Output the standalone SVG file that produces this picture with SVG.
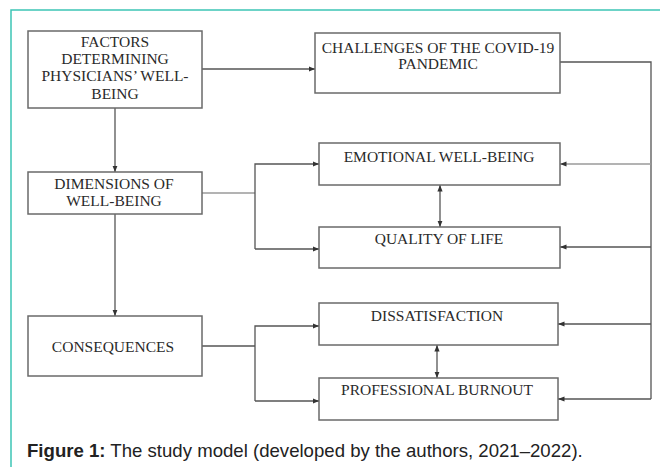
<svg xmlns="http://www.w3.org/2000/svg" width="660" height="467" viewBox="0 0 660 467">
<defs>
<style>
.box{fill:#fff;stroke:#6a6a6a;stroke-width:1.5}
.t{font-family:"Liberation Serif","Times New Roman",serif;font-size:15.5px;fill:#2a2a2a;text-anchor:middle}
.ln{fill:none;stroke:#555;stroke-width:1.3}
.lt{fill:none;stroke:#9a9a9a;stroke-width:1.3}
.cap{font-family:"Liberation Sans",Arial,sans-serif;font-size:18.6px;fill:#222}
</style>
<marker id="ah" viewBox="0 0 10 10" refX="10" refY="5" markerWidth="5" markerHeight="5" orient="auto-start-reverse">
<path d="M0,1 L10,5 L0,9 Z" fill="#333"/>
</marker>
</defs>
<rect width="660" height="467" fill="#fff"/>
<path d="M11,467 V10 H660" fill="none" stroke="#3cc5b5" stroke-width="1.5"/>

<g id="connectors">
<path class="ln" d="M202,69 H315" marker-end="url(#ah)"/>
<path class="ln" d="M115,108 V172" marker-end="url(#ah)"/>
<path class="ln" d="M115,214 V316" marker-end="url(#ah)"/>
<path class="lt" d="M202,193 H255"/>
<path class="ln" d="M255,249 V164 H319" marker-end="url(#ah)"/>
<path class="ln" d="M255,249 H319" marker-end="url(#ah)"/>
<path class="ln" d="M202,346 H255"/>
<path class="ln" d="M255,401 V326 H319" marker-end="url(#ah)"/>
<path class="ln" d="M255,401 H319" marker-end="url(#ah)"/>
<path class="ln" d="M560,62 H651 V399"/>
<path class="lt" d="M651,164 H560" marker-end="url(#ah)"/>
<path class="ln" d="M651,247 H560" marker-end="url(#ah)"/>
<path class="ln" d="M651,324 H558" marker-end="url(#ah)"/>
<path class="ln" d="M651,399 H558" marker-end="url(#ah)"/>
<path class="ln" d="M440,185 V227" marker-start="url(#ah)" marker-end="url(#ah)"/>
<path class="ln" d="M437,345 V378" marker-start="url(#ah)" marker-end="url(#ah)"/>
</g>

<g id="factors">
<rect class="box" x="28" y="31" width="174" height="77"/>
<text class="t" x="115" y="47">FACTORS</text>
<text class="t" x="115" y="64">DETERMINING</text>
<text class="t" x="115" y="81">PHYSICIANS’ WELL-</text>
<text class="t" x="115" y="99">BEING</text>
</g>
<g id="dimensions">
<rect class="box" x="28" y="172" width="174" height="42"/>
<text class="t" x="114" y="189">DIMENSIONS OF</text>
<text class="t" x="114" y="206">WELL-BEING</text>
</g>
<g id="consequences">
<rect class="box" x="28" y="316" width="174" height="60"/>
<text class="t" x="113" y="352">CONSEQUENCES</text>
</g>
<g id="challenges">
<rect class="box" x="315" y="33" width="245" height="60"/>
<text class="t" x="438" y="53">CHALLENGES OF THE COVID-19</text>
<text class="t" x="438" y="69">PANDEMIC</text>
</g>
<g id="emotional">
<rect class="box" x="319" y="143" width="241" height="42"/>
<text class="t" x="439" y="162">EMOTIONAL WELL-BEING</text>
</g>
<g id="quality">
<rect class="box" x="319" y="227" width="241" height="41"/>
<text class="t" x="439" y="244">QUALITY OF LIFE</text>
</g>
<g id="dissatisfaction">
<rect class="box" x="319" y="303" width="239" height="42"/>
<text class="t" x="437" y="321">DISSATISFACTION</text>
</g>
<g id="burnout">
<rect class="box" x="319" y="378" width="239" height="42"/>
<text class="t" x="437" y="395">PROFESSIONAL BURNOUT</text>
</g>

<text class="cap" x="27" y="457"><tspan font-weight="bold">Figure 1:</tspan> The study model (developed by the authors, 2021–2022).</text>
</svg>
